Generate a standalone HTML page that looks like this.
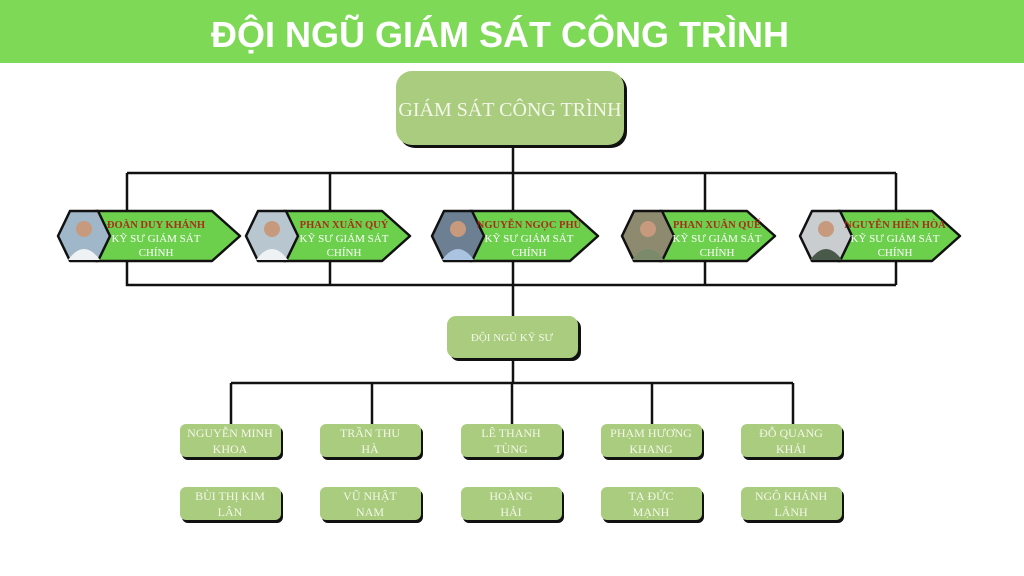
<!DOCTYPE html>
<html><head><meta charset="utf-8"><style>
body{margin:0;width:1024px;height:576px;overflow:hidden;background:#fff}
svg{display:block}
.t{font-family:"Liberation Serif","DejaVu Serif",serif;fill:#f4f7ea;text-anchor:middle}
.n{font-family:"Liberation Serif",serif;font-weight:bold;fill:#a5301c;text-anchor:middle;font-size:10.5px}
.s{font-family:"Liberation Serif",serif;fill:#fff;text-anchor:middle;font-size:11px}
</style></head><body>
<svg width="1024" height="576" viewBox="0 0 1024 576">
<rect x="0" y="0" width="1024" height="63" fill="#7ed957"/>
<text x="500" y="47" text-anchor="middle" font-family="Liberation Sans,sans-serif" font-weight="bold" font-size="36" fill="#fff">ĐỘI NGŨ GIÁM SÁT CÔNG TRÌNH</text>
<g stroke="#111" stroke-width="2.5" fill="none">
<path d="M513 146V173M127 173H896M127 173V212M330 173V212M513 173V212M705 173V212M896 173V212"/>
<path d="M127 260V285H896M896 260V285M330 260V285M705 260V285M513 260V318"/>
<path d="M513 358V383M231 383H793M231 383V425M372 383V425M512 383V425M652 383V425M793 383V425"/>
</g>
<rect x="399" y="74" width="228" height="74" rx="16" fill="#111"/>
<rect x="396" y="71" width="228" height="74" rx="16" fill="#a9cc7e"/>
<text class="t" x="510" y="116" font-size="20">GIÁM SÁT CÔNG TRÌNH</text>
<rect x="450" y="319" width="131" height="42" rx="9" fill="#111"/>
<rect x="447" y="316" width="131" height="42" rx="9" fill="#a9cc7e"/>
<text class="t" x="512" y="341" font-size="11">ĐỘI NGŨ KỸ SƯ</text>
<g stroke="#111" stroke-width="2.5" stroke-linejoin="round">
<polygon points="96,211 212,211 240,236 212,261 96,261" fill="#6cd04c"/>
<polygon points="58,236 70,211 98,211 110,236 98,261 70,261" fill="#9fb7c8"/>
<polygon points="284,211 382,211 410,236 382,261 284,261" fill="#6cd04c"/>
<polygon points="246,236 258,211 286,211 298,236 286,261 258,261" fill="#b7c6cf"/>
<polygon points="470,211 570,211 598,236 570,261 470,261" fill="#6cd04c"/>
<polygon points="432,236 444,211 472,211 484,236 472,261 444,261" fill="#6d7f92"/>
<polygon points="660,211 747,211 775,236 747,261 660,261" fill="#6cd04c"/>
<polygon points="622,236 634,211 662,211 674,236 662,261 634,261" fill="#8d8a70"/>
<polygon points="838,211 932,211 960,236 932,261 838,261" fill="#6cd04c"/>
<polygon points="800,236 812,211 840,211 852,236 840,261 812,261" fill="#c9cdd0"/>
</g>
<g fill="#c79a7e">
<circle cx="84" cy="229" r="8"/><circle cx="272" cy="229" r="8"/><circle cx="458" cy="229" r="8"/><circle cx="648" cy="229" r="8"/><circle cx="826" cy="229" r="8"/>
</g>
<g fill="#eef2f5">
<path d="M68 260 Q84 238 100 260Z"/><path d="M256 260 Q272 238 288 260Z"/><path d="M442 260 Q458 238 474 260Z" fill="#a9c3e0"/><path d="M632 260 Q648 238 664 260Z" fill="#7a8a6a"/><path d="M810 260 Q826 238 842 260Z" fill="#4a5a4a"/>
</g>
<text class="n" x="156" y="228">ĐOÀN DUY KHÁNH</text><text class="s" x="156" y="242">KỸ SƯ GIÁM SÁT</text><text class="s" x="156" y="256">CHÍNH</text>
<text class="n" x="344" y="228">PHAN XUÂN QUÝ</text><text class="s" x="344" y="242">KỸ SƯ GIÁM SÁT</text><text class="s" x="344" y="256">CHÍNH</text>
<text class="n" x="529" y="228">NGUYỄN NGỌC PHÚ</text><text class="s" x="529" y="242">KỸ SƯ GIÁM SÁT</text><text class="s" x="529" y="256">CHÍNH</text>
<text class="n" x="717" y="228">PHAN XUÂN QUẾ</text><text class="s" x="717" y="242">KỸ SƯ GIÁM SÁT</text><text class="s" x="717" y="256">CHÍNH</text>
<text class="n" x="895" y="228">NGUYỄN HIỀN HÒA</text><text class="s" x="895" y="242">KỸ SƯ GIÁM SÁT</text><text class="s" x="895" y="256">CHÍNH</text>
<g>
<rect x="182" y="427" width="101" height="33" rx="6" fill="#111"/><rect x="180" y="424" width="101" height="33" rx="6" fill="#a9cc7e"/>
<rect x="322" y="427" width="101" height="33" rx="6" fill="#111"/><rect x="320" y="424" width="101" height="33" rx="6" fill="#a9cc7e"/>
<rect x="463" y="427" width="101" height="33" rx="6" fill="#111"/><rect x="461" y="424" width="101" height="33" rx="6" fill="#a9cc7e"/>
<rect x="603" y="427" width="101" height="33" rx="6" fill="#111"/><rect x="601" y="424" width="101" height="33" rx="6" fill="#a9cc7e"/>
<rect x="743" y="427" width="101" height="33" rx="6" fill="#111"/><rect x="741" y="424" width="101" height="33" rx="6" fill="#a9cc7e"/>
<rect x="182" y="490" width="101" height="33" rx="6" fill="#111"/><rect x="180" y="487" width="101" height="33" rx="6" fill="#a9cc7e"/>
<rect x="322" y="490" width="101" height="33" rx="6" fill="#111"/><rect x="320" y="487" width="101" height="33" rx="6" fill="#a9cc7e"/>
<rect x="463" y="490" width="101" height="33" rx="6" fill="#111"/><rect x="461" y="487" width="101" height="33" rx="6" fill="#a9cc7e"/>
<rect x="603" y="490" width="101" height="33" rx="6" fill="#111"/><rect x="601" y="487" width="101" height="33" rx="6" fill="#a9cc7e"/>
<rect x="743" y="490" width="101" height="33" rx="6" fill="#111"/><rect x="741" y="487" width="101" height="33" rx="6" fill="#a9cc7e"/>
</g>
<g class="t" font-size="12">
<text class="t" x="230" y="437">NGUYỄN MINH</text><text class="t" x="230" y="453">KHOA</text>
<text class="t" x="370" y="437">TRẦN THU</text><text class="t" x="370" y="453">HÀ</text>
<text class="t" x="511" y="437">LÊ THANH</text><text class="t" x="511" y="453">TÙNG</text>
<text class="t" x="651" y="437">PHẠM HƯƠNG</text><text class="t" x="651" y="453">KHANG</text>
<text class="t" x="791" y="437">ĐỖ QUANG</text><text class="t" x="791" y="453">KHẢI</text>
<text class="t" x="230" y="500">BÙI THỊ KIM</text><text class="t" x="230" y="516">LÂN</text>
<text class="t" x="370" y="500">VŨ NHẬT</text><text class="t" x="370" y="516">NAM</text>
<text class="t" x="511" y="500">HOÀNG</text><text class="t" x="511" y="516">HẢI</text>
<text class="t" x="651" y="500">TẠ ĐỨC</text><text class="t" x="651" y="516">MẠNH</text>
<text class="t" x="791" y="500">NGÔ KHÁNH</text><text class="t" x="791" y="516">LÃNH</text>
</g>
</svg>
</body></html>
